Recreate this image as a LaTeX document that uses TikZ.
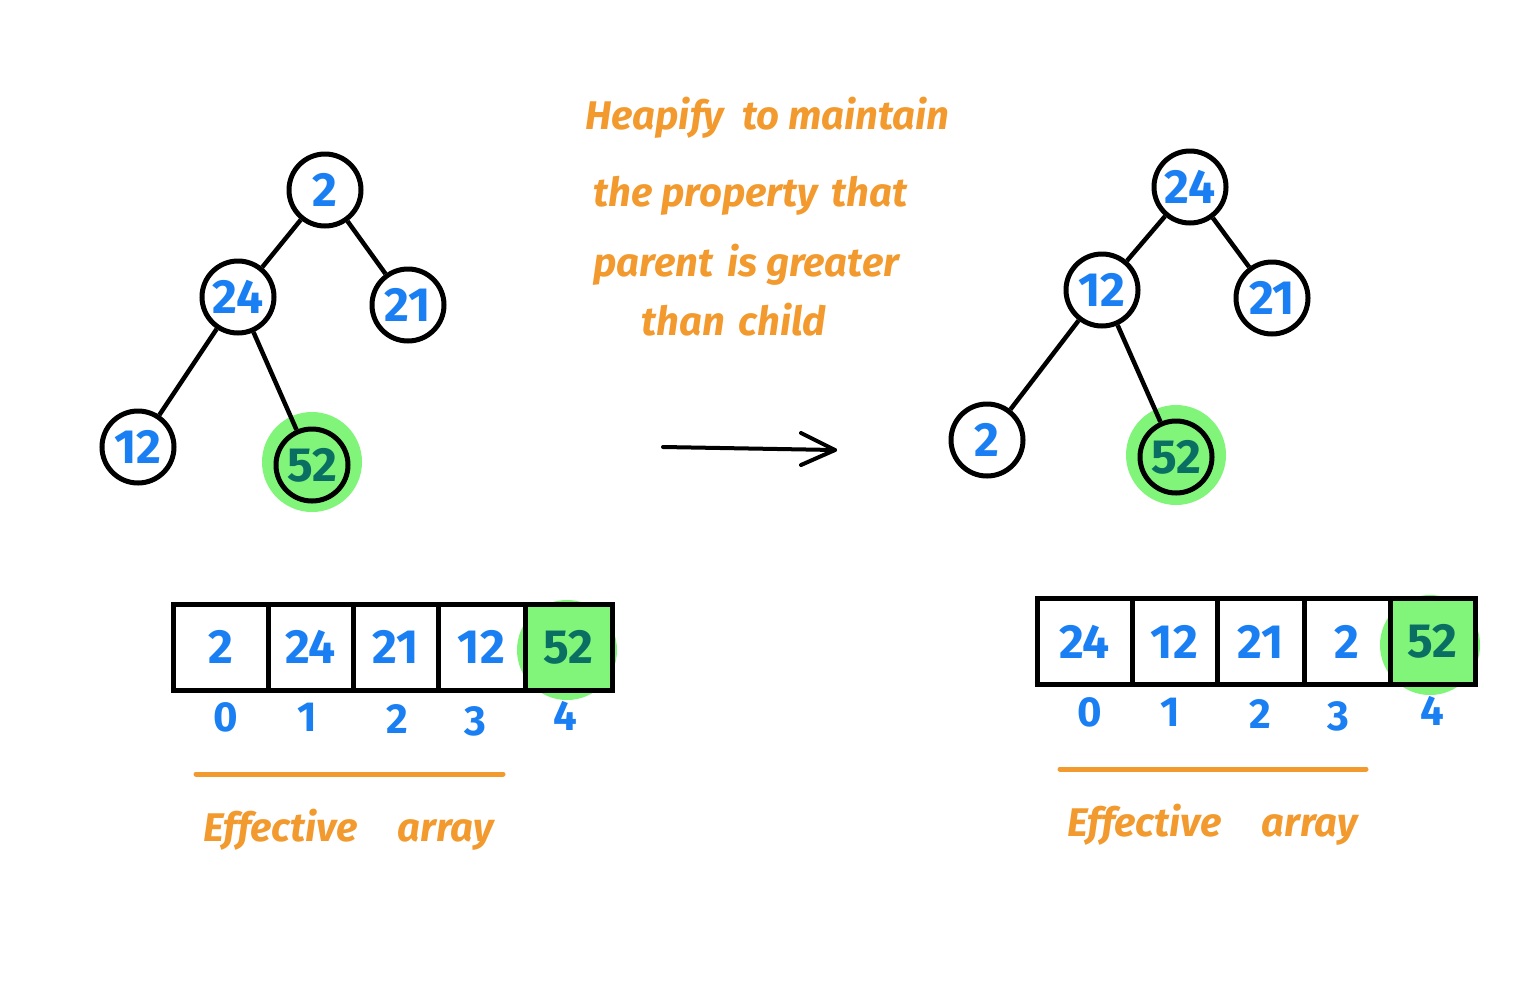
\documentclass[tikz,border=0pt]{standalone}
\usepackage{fontspec}
\setmainfont{Fira Sans}
\usetikzlibrary{arrows.meta}
\definecolor{hblue}{HTML}{1A7FF2}
\definecolor{horange}{HTML}{F29A2E}
\definecolor{hgreen}{HTML}{80F57A}
\definecolor{hteal}{HTML}{0B6E62}
\begin{document}
\begin{tikzpicture}[x=1pt,y=-1pt,
  hnode/.style={circle,draw=black,line width=5pt,minimum size=72pt,inner sep=0pt,fill=white,text=hblue,font=\fontsize{48}{54}\selectfont\bfseries},
  hot/.style={fill=hgreen,text=hteal},
  halo/.style={circle,fill=hgreen,minimum size=100pt,inner sep=0pt},
  edge/.style={line width=4.5pt},
  cell/.style={draw=black,line width=5pt,minimum height=86pt,inner sep=0pt,text=hblue,font=\fontsize{48}{54}\selectfont\bfseries},
  idx/.style={text=hblue,font=\fontsize{42}{48}\selectfont\bfseries},
  note/.style={text=horange,anchor=west,font=\fontsize{40}{46}\selectfont\bfseries\itshape},
  uline/.style={draw=horange,line width=5pt,line cap=round},
  arrowline/.style={line width=4pt,line cap=round,line join=round}
]
\useasboundingbox[fill=white] (0,0) rectangle (1522,999);

% ---------- left tree ----------
\node[halo] (h1) at (312,462) {};
\node[hnode] (l2) at (325,190) {2};
\node[hnode] (l24) at (238,297) {24};
\node[hnode] (l21) at (408,305) {21};
\node[hnode] (l12) at (138,447) {12};
\node[hnode,hot] (l52) at (312,465) {52};
\draw[edge] (l2) -- (l24);
\draw[edge] (l2) -- (l21);
\draw[edge] (l24) -- (l12);
\draw[edge] (l24) -- (l52);

% ---------- right tree ----------
\node[halo] (h2) at (1176,455) {};
\node[hnode] (r24) at (1190,187) {24};
\node[hnode] (r12) at (1102,290) {12};
\node[hnode] (r21) at (1272,298) {21};
\node[hnode] (r2) at (987,440) {2};
\node[hnode,hot] (r52) at (1176,457) {52};
\draw[edge] (r24) -- (r12);
\draw[edge] (r24) -- (r21);
\draw[edge] (r12) -- (r2);
\draw[edge] (r12) -- (r52);

% ---------- arrow ----------
\coordinate (arS) at (663,447);
\coordinate (arE) at (835,450);
\draw[arrowline] (arS) -- (arE);
\draw[arrowline] ([shift={(-34,-17)}]arE) -- (arE) -- ([shift={(-34,15)}]arE);

% ---------- note ----------
\node[note] (t1) at (582,118) {Heapify\hspace{18pt}to maintain};
\node[note] (t2) at (590,196) {the property\hspace{14pt}that};
\node[note] (t3) at (590,265) {parent\hspace{14pt}is greater};
\node[note] (t4) at (638,320) {than\hspace{14pt}child};

% ---------- left array ----------
\node[halo] (ha1) at (567,650) {};
\node[cell,minimum width=95pt] (a0) at (220.5,647) {2};
\node[cell,minimum width=85pt] (a1) at (310.5,647) {24};
\node[cell,minimum width=85pt] (a2) at (395.5,647) {21};
\node[cell,minimum width=87pt] (a3) at (481.5,647) {12};
\node[cell,minimum width=87pt,fill=hgreen,text=hteal] (a4) at (568.5,647) {52};
\node[idx] (i0) at (226,717) {0};
\node[idx] (i1) at (307,717) {1};
\node[idx] (i2) at (397,719) {2};
\node[idx] (i3) at (475,721) {3};
\node[idx] (i4) at (565,716) {4};
\coordinate (u1a) at (196,774);
\coordinate (u1b) at (503,774);
\draw[uline] (u1a) -- (u1b);
\node[note] (e1) at (200,830) {Effective\hspace{40pt}array};

% ---------- right array ----------
\node[halo] (ha2) at (1430,645) {};
\node[cell,minimum width=95pt] (b0) at (1084.5,641.5) {24};
\node[cell,minimum width=85pt] (b1) at (1174.5,641.5) {12};
\node[cell,minimum width=87pt] (b2) at (1260.5,641.5) {21};
\node[cell,minimum width=86pt] (b3) at (1347,641.5) {2};
\node[cell,minimum width=85pt,fill=hgreen,text=hteal] (b4) at (1432.5,641.5) {52};
\node[idx] (j0) at (1090,712) {0};
\node[idx] (j1) at (1170,712) {1};
\node[idx] (j2) at (1260,714) {2};
\node[idx] (j3) at (1338,716) {3};
\node[idx] (j4) at (1432,711) {4};
\coordinate (u2a) at (1060,769);
\coordinate (u2b) at (1366,769);
\draw[uline] (u2a) -- (u2b);
\node[note] (e2) at (1064,825) {Effective\hspace{40pt}array};
\end{tikzpicture}
\end{document}
